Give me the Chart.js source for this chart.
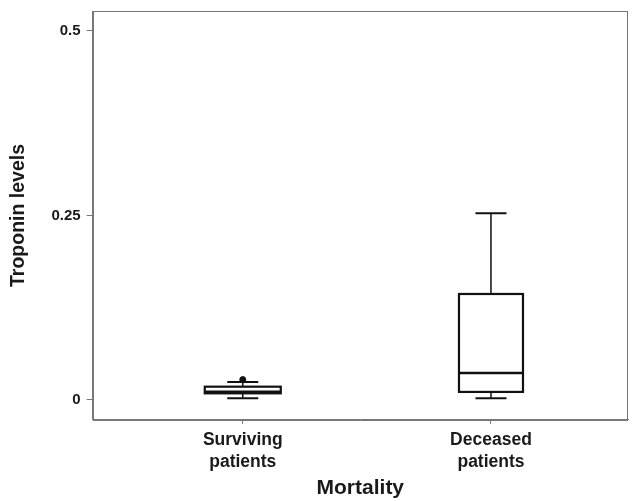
<!DOCTYPE html>
<html>
<head>
<meta charset="utf-8">
<script src="https://cdn.jsdelivr.net/npm/chart.js@4.4.1/dist/chart.umd.min.js"></script>
<style>
  html, body { margin: 0; padding: 0; background: #fff; }
  #wrap { position: relative; width: 636px; height: 501px; }
</style>
</head>
<body>
<div id="wrap"><canvas id="c" role="img" aria-label="Box plot of troponin levels by mortality"></canvas></div>
<script>
// data
const categories   = [['Surviving', 'patients'], ['Deceased', 'patients']];
const catPositions = [1, 2];
const whiskerLow   = [0.0023, 0.0023];
const q1           = [0.0090, 0.0109];
const median       = [0.0113, 0.0367];
const q3           = [0.0180, 0.1436];
const whiskerHigh  = [0.0245, 0.2530];
const outliers     = [{ x: 1, y: 0.0276 }];
const yTicks       = [0, 0.25, 0.5];

// looks
const boxWidths = [76, 64];
const capWidth  = 31;
const ink       = '#111';
const frame     = '#777';
const fontFam   = "'Liberation Sans', Arial, Helvetica, sans-serif";

const boxPlugin = {
  id: 'boxes',
  afterDatasetsDraw(chart) {
    const { ctx, scales: { x, y }, chartArea: a } = chart;
    ctx.save();
    // frame round plot area
    ctx.strokeStyle = frame;
    ctx.lineWidth = 1;
    ctx.strokeRect(Math.round(a.left) + 0.5, Math.round(a.top) + 0.5, Math.round(a.right - a.left) - 1, Math.round(a.bottom - a.top));
    ctx.strokeStyle = ink;
    catPositions.forEach((pos, i) => {
      const cx = x.getPixelForValue(pos);
      const half = boxWidths[i] / 2;
      const yLo = y.getPixelForValue(whiskerLow[i]);
      const yQ1 = y.getPixelForValue(q1[i]);
      const yMd = y.getPixelForValue(median[i]);
      const yQ3 = y.getPixelForValue(q3[i]);
      const yHi = y.getPixelForValue(whiskerHigh[i]);
      // whiskers
      ctx.lineWidth = 1.5;
      ctx.beginPath();
      ctx.moveTo(cx, yQ3); ctx.lineTo(cx, yHi);
      ctx.moveTo(cx, yQ1); ctx.lineTo(cx, yLo);
      ctx.stroke();
      ctx.lineWidth = 2;
      ctx.beginPath();
      ctx.moveTo(cx - capWidth / 2, yHi); ctx.lineTo(cx + capWidth / 2, yHi);
      ctx.moveTo(cx - capWidth / 2, yLo); ctx.lineTo(cx + capWidth / 2, yLo);
      ctx.stroke();
      // box
      ctx.fillStyle = '#fff';
      ctx.fillRect(cx - half, yQ3, half * 2, yQ1 - yQ3);
      ctx.lineWidth = 2.2;
      ctx.strokeRect(cx - half, yQ3, half * 2, yQ1 - yQ3);
      // median
      ctx.lineWidth = 2.5;
      ctx.beginPath();
      ctx.moveTo(cx - half, yMd); ctx.lineTo(cx + half, yMd);
      ctx.stroke();
    });
    ctx.restore();
  }
};

new Chart(document.getElementById('c'), {
  type: 'scatter',
  data: {
    datasets: [{
      label: 'Outliers',
      data: outliers,
      pointStyle: 'circle',
      pointRadius: 3,
      backgroundColor: ink,
      borderColor: ink,
      borderWidth: 1
    }]
  },
  options: {
    responsive: true,
    maintainAspectRatio: false,
    animation: false,
    layout: { padding: { top: 11, right: 8, bottom: 1, left: 0 } },
    plugins: { legend: { display: false }, tooltip: { enabled: false } },
    scales: {
      x: {
        type: 'linear',
        min: 0.395,
        max: 2.552,
        afterBuildTicks: s => { s.ticks = catPositions.map(v => ({ value: v })); },
        grid: { drawOnChartArea: false, drawTicks: true, tickLength: 4, color: frame },
        border: { display: true, color: frame, width: 1 },
        ticks: {
          padding: 5,
          color: '#1a1a1a',
          font: { family: fontFam, size: 17.5, weight: 'bold', lineHeight: 1.26 },
          callback: v => categories[catPositions.indexOf(v)]
        },
        title: {
          display: true,
          text: 'Mortality',
          color: '#1a1a1a',
          font: { family: fontFam, size: 21, weight: 'bold', lineHeight: 1.0 },
          padding: { top: 0, bottom: 1 }
        }
      },
      y: {
        min: -0.027,
        max: 0.527,
        afterBuildTicks: s => { s.ticks = yTicks.map(v => ({ value: v })); },
        afterFit: s => { s.paddingTop = 0; s.paddingBottom = 0; },
        grid: { drawOnChartArea: false, drawTicks: true, tickLength: 6, color: frame },
        border: { display: true, color: frame, width: 1 },
        ticks: {
          padding: 6,
          color: '#1a1a1a',
          font: { family: fontFam, size: 15, weight: 'bold' },
          callback: v => String(v)
        },
        title: {
          display: true,
          text: 'Troponin levels',
          color: '#1a1a1a',
          font: { family: fontFam, size: 19.5, weight: 'bold', lineHeight: 1.2 },
          padding: { top: 7, bottom: 15 }
        }
      }
    }
  },
  plugins: [boxPlugin]
});
</script>
</body>
</html>
